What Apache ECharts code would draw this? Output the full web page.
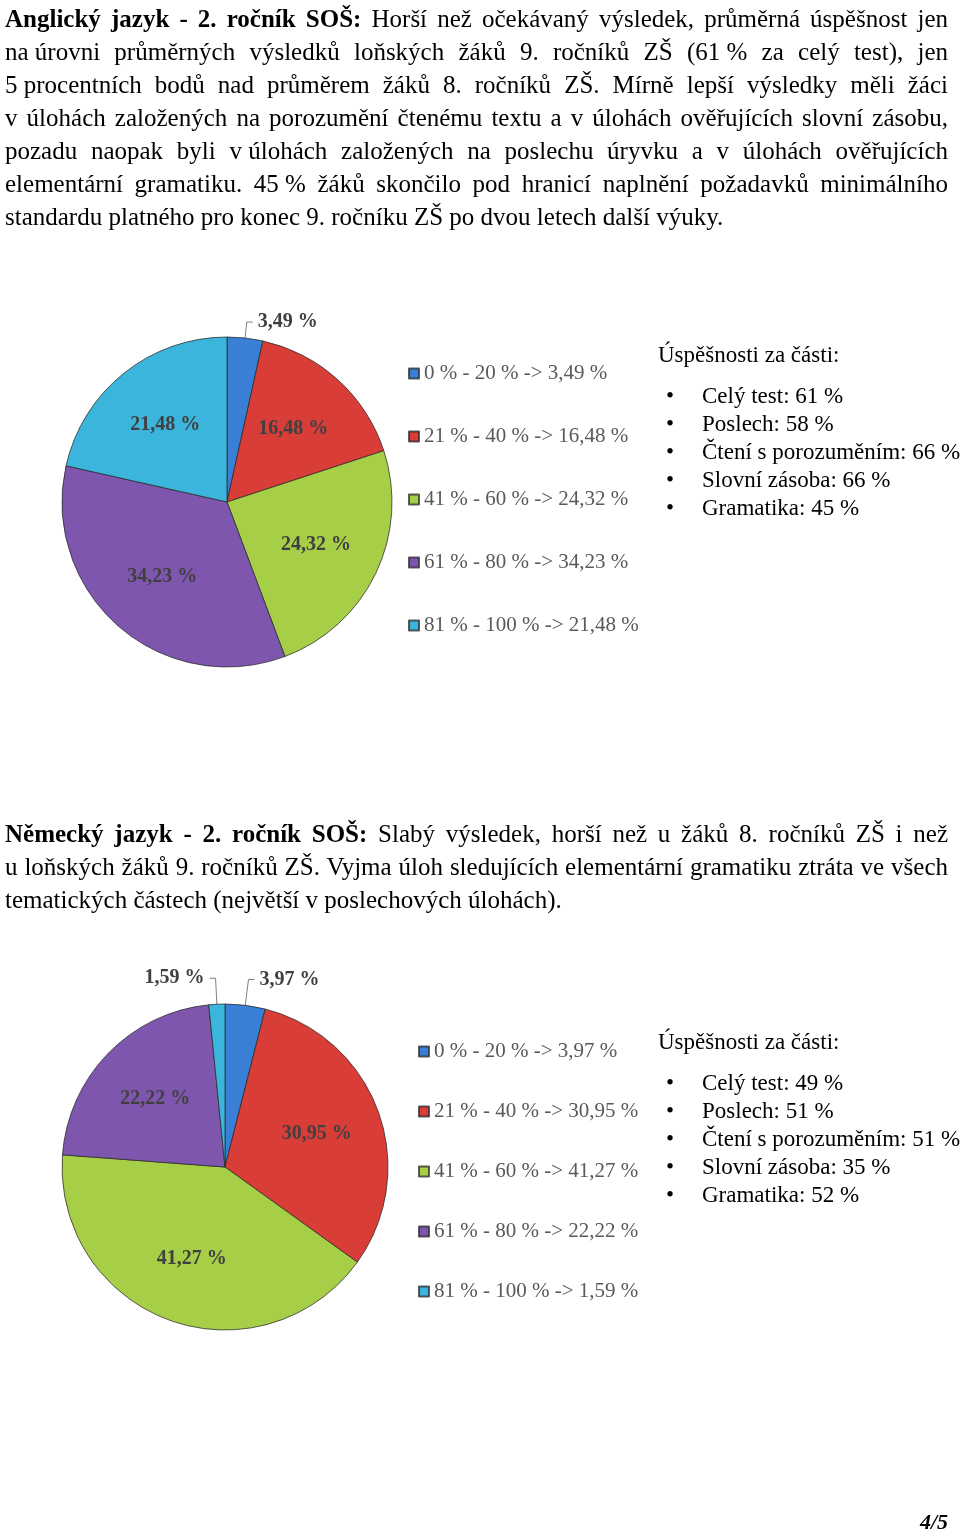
<!DOCTYPE html>
<html>
<head>
<meta charset="utf-8">
<script src="https://cdn.jsdelivr.net/npm/echarts@6/dist/echarts.min.js"></script>
<style>
  html, body { margin: 0; padding: 0; background: #fff; }
  body { width: 960px; height: 1532px; position: relative; overflow: hidden;
         font-family: "Liberation Serif", "Times New Roman", serif; color: #000; }
  #chart { position: absolute; left: 0; top: 0; width: 960px; height: 1532px; }
  .para { position: absolute; left: 5px; width: 943px; font-size: 25px; line-height: 33px; }
  .para div { text-align: justify; text-align-last: justify; white-space: nowrap; }
  .para div.last { text-align-last: left; }
  .para b { font-weight: bold; }
  .nb { display: inline-block; }
  .parts { position: absolute; left: 658px; font-size: 23px; }
  .parts .title { line-height: 28px; margin-bottom: 13px; }
  .parts .item { position: relative; padding-left: 44px; line-height: 28px; white-space: nowrap; }
  .parts .item::before { content: "\2022"; position: absolute; left: 8px; top: 0; }
  .pageno { position: absolute; right: 12px; top: 1509px; font-size: 22px; font-weight: bold; font-style: italic; }
</style>
</head>
<body>
<div id="chart"></div>

<div class="para" style="top:2px">
  <div><b>Anglický jazyk - 2. ročník SOŠ:</b> Horší než očekávaný výsledek, průměrná úspěšnost jen</div>
  <div><span class="nb">na&nbsp;úrovni</span> průměrných výsledků loňských žáků 9. ročníků ZŠ (<span class="nb">61&nbsp;%</span> za celý test), jen</div>
  <div><span class="nb">5&nbsp;procentních</span> bodů nad průměrem žáků 8. ročníků ZŠ. Mírně lepší výsledky měli žáci</div>
  <div>v úlohách založených na porozumění čtenému textu a v úlohách ověřujících slovní zásobu,</div>
  <div>pozadu naopak byli <span class="nb">v&nbsp;úlohách</span> založených na poslechu úryvku a v úlohách ověřujících</div>
  <div>elementární gramatiku. <span class="nb">45&nbsp;%</span> žáků skončilo pod hranicí naplnění požadavků minimálního</div>
  <div class="last">standardu platného pro konec 9. ročníku ZŠ po dvou letech další výuky.</div>
</div>

<div class="para" style="top:817px">
  <div><b>Německý jazyk - 2. ročník SOŠ:</b> Slabý výsledek, horší než u žáků 8. ročníků ZŠ i než</div>
  <div>u loňských žáků 9. ročníků ZŠ. Vyjma úloh sledujících elementární gramatiku ztráta ve všech</div>
  <div class="last">tematických částech (největší v poslechových úlohách).</div>
</div>

<div class="parts" id="parts1" style="top:341px"></div>
<div class="parts" id="parts2" style="top:1028px"></div>

<div class="pageno">4/5</div>

<script>
// ---- data ----
const categories = ['0 % - 20 %', '21 % - 40 %', '41 % - 60 %', '61 % - 80 %', '81 % - 100 %'];
const englishValues = [3.49, 16.48, 24.32, 34.23, 21.48];
const germanValues = [3.97, 30.95, 41.27, 22.22, 1.59];
const partNames = ['Celý test', 'Poslech', 'Čtení s porozuměním', 'Slovní zásoba', 'Gramatika'];
const englishParts = [61, 58, 66, 66, 45];
const germanParts = [49, 51, 51, 35, 52];
const partsTitle = 'Úspěšnosti za části:';

// ---- styles ----
const colors = ['#3a7fd6', '#d83d38', '#a7ce47', '#7e56ae', '#3bb5db'];
const serif = '"Liberation Serif", "Times New Roman", serif';
const fmt = v => v.toFixed(2).replace('.', ',') + ' %';
const SMALL = 5; // slices below this share get an outside label

function buildParts(id, values) {
  const el = document.getElementById(id);
  let html = '<div class="title">' + partsTitle + '</div>';
  partNames.forEach((n, i) => { html += '<div class="item">' + n + ': ' + values[i] + '&nbsp;%</div>'; });
  el.innerHTML = html;
}
buildParts('parts1', englishParts);
buildParts('parts2', germanParts);

const labelFont = { fontFamily: serif, fontSize: 20, fontWeight: 'bold', color: '#404040' };

// Main pie: coloured slices, outside labels for the small slices only
function pieSeries(values, center, radius, lineLen) {
  return {
    type: 'pie',
    center: center,
    radius: radius,
    startAngle: 90,
    clockwise: true,
    avoidLabelOverlap: false,
    itemStyle: { borderColor: 'rgba(40,40,40,0.75)', borderWidth: 1 },
    label: Object.assign({ show: true, position: 'outside', formatter: p => fmt(p.value) }, labelFont),
    labelLine: { show: true, length: lineLen, length2: 6, lineStyle: { color: '#7f7f7f', width: 1 } },
    emphasis: { disabled: true },
    data: values.map((v, i) => ({
      name: categories[i], value: v, itemStyle: { color: colors[i] },
      label: { show: v < SMALL }, labelLine: { show: v < SMALL }
    }))
  };
}

// Transparent ring carrying the inside labels a bit further out from the centre
function labelSeries(values, center, radius) {
  return {
    type: 'pie',
    center: center,
    radius: [radius * 0.16, radius],
    startAngle: 90,
    clockwise: true,
    silent: true,
    avoidLabelOverlap: false,
    itemStyle: { color: 'rgba(0,0,0,0)', borderWidth: 0 },
    label: Object.assign({ show: true, position: 'inside', formatter: p => fmt(p.value) }, labelFont),
    labelLine: { show: false },
    emphasis: { disabled: true },
    data: values.map((v, i) => ({ name: categories[i], value: v, label: { show: v >= SMALL } }))
  };
}

function legend(values, left, top, gap) {
  return {
    orient: 'vertical',
    left: left, top: top, padding: 0,
    icon: 'rect', itemWidth: 10, itemHeight: 10, itemGap: gap,
    selectedMode: false,
    data: categories.map((c, i) => ({ name: c, itemStyle: { color: colors[i] } })),
    formatter: name => name + ' -> ' + fmt(values[categories.indexOf(name)]),
    textStyle: { fontFamily: serif, fontSize: 21, color: '#595959', lineHeight: 21 }
  };
}

const chart = echarts.init(document.getElementById('chart'), null, { renderer: 'canvas' });
chart.setOption({
  animation: false,
  legend: [
    legend(englishValues, 408, 363, 42),
    legend(germanValues, 418, 1041, 39)
  ],
  series: [
    pieSeries(englishValues, [227, 502], 165, 16),
    labelSeries(englishValues, [227, 502], 165),
    pieSeries(germanValues, [225, 1167], 163, 26),
    labelSeries(germanValues, [225, 1167], 163)
  ]
});
</script>
</body>
</html>
